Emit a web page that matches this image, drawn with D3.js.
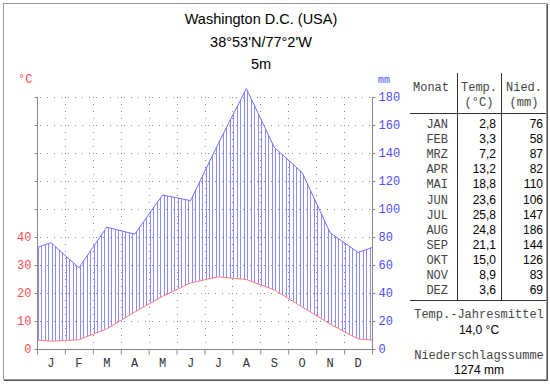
<!DOCTYPE html>
<html>
<head>
<meta charset="utf-8">
<style>
  body { margin: 0; background: #fff; }
  svg { display: block; }
  .mono { font-family: "Liberation Mono", "DejaVu Sans Mono", monospace; }
  .sans { font-family: "Liberation Sans", Arial, sans-serif; }
</style>
</head>
<body>
<svg width="550" height="384"></svg>
<script src="https://cdn.jsdelivr.net/npm/d3@7"></script>
<script>

var months = ["JAN", "FEB", "MRZ", "APR", "MAI", "JUN", "JUL", "AUG", "SEP", "OKT", "NOV", "DEZ"];
var monthLetters = ["J", "F", "M", "A", "M", "J", "J", "A", "S", "O", "N", "D"];
var temp = [2.8, 3.3, 7.2, 13.2, 18.8, 23.6, 25.8, 24.8, 21.1, 15.0, 8.9, 3.6];
var precip = [76, 58, 87, 82, 110, 106, 147, 186, 144, 126, 83, 69];
var tempTicks = [0, 10, 20, 30, 40];
var precipTicks = [0, 20, 40, 60, 80, 100, 120, 140, 160, 180];
var titleLines = ["Washington D.C. (USA)", "38°53'N/77°2'W", "5m"];
var meanTemp = "14,0 °C";
var totalPrecip = "1274 mm";

var svg = d3.select("svg"),
    margin = {top: 97, left: 37, right: 178, bottom: 35},
    width = 550 - margin.left - margin.right,
    height = 384 - margin.top - margin.bottom;

var fmt = function(v) { return v.toFixed(1).replace(".", ","); };

// frame
svg.append("rect").attr("x", 3.5).attr("y", 3.5).attr("width", 543).attr("height", 376)
    .attr("fill", "#fff").attr("stroke", "#999");
svg.append("path").attr("d", "M547.5,4V380.5H4").attr("fill", "none").attr("stroke", "#555");

// title
svg.selectAll(".title").data(titleLines).enter().append("text")
    .attr("class", "sans")
    .attr("x", 261).attr("y", function(d, i) { return 24 + i * 22.5; })
    .attr("text-anchor", "middle").attr("font-size", 14.5).attr("fill", "#000")
    .text(function(d) { return d; });

var g = svg.append("g").attr("transform", "translate(" + margin.left + "," + margin.top + ")");

var x = d3.scaleLinear().domain([0, 12]).range([0, width]);
var yP = d3.scaleLinear().domain([0, 180]).range([height, 0]);
var yT = d3.scaleLinear().domain([0, 90]).range([height, 0]);

// wrap Dec before Jan and Jan after Dec, clipped to the year
var wrapped = [{m: -0.5, t: temp[11], p: precip[11]}]
    .concat(temp.map(function(t, i) { return {m: i + 0.5, t: t, p: precip[i]}; }))
    .concat([{m: 12.5, t: temp[0], p: precip[0]}]);

g.append("clipPath").attr("id", "year").append("rect")
    .attr("x", 0).attr("y", -20).attr("width", width).attr("height", height + 20);

// dotted grid
g.append("g").selectAll("line").data(d3.range(10, 91, 10)).enter().append("line")
    .attr("x1", 3).attr("x2", width)
    .attr("y1", function(d) { return Math.round(yT(d)) + 0.5; })
    .attr("y2", function(d) { return Math.round(yT(d)) + 0.5; })
    .attr("stroke", "#888").attr("stroke-dasharray", "1,6");

g.append("g").selectAll("line").data(d3.range(1, 12)).enter().append("line")
    .attr("x1", function(d) { return Math.round(x(d)) + 0.5; })
    .attr("x2", function(d) { return Math.round(x(d)) + 0.5; })
    .attr("y1", 0).attr("y2", height)
    .attr("stroke", "#888").attr("stroke-dasharray", "1,6");

// hatching between temperature and precipitation
var area = d3.area()
    .x(function(d) { return x(d.m); })
    .y0(function(d) { return yT(d.t); })
    .y1(function(d) { return yP(d.p); });

g.append("clipPath").attr("id", "humid").append("path")
    .datum(wrapped).attr("d", area);

var hatch = g.append("g").attr("clip-path", "url(#year)")
    .append("g").attr("clip-path", "url(#humid)");
hatch.selectAll("line").data(d3.range(0, 96)).enter().append("line")
    .attr("x1", function(d) { return Math.round(x(d / 8)) + 1.5; })
    .attr("x2", function(d) { return Math.round(x(d / 8)) + 1.5; })
    .attr("y1", -20).attr("y2", height)
    .attr("stroke", "#8c8cff").attr("stroke-width", 1);

var lines = g.append("g").attr("clip-path", "url(#year)");
lines.append("path").datum(wrapped)
    .attr("fill", "none").attr("stroke", "#ff7a7a").attr("stroke-width", 1)
    .attr("d", d3.line().x(function(d) { return x(d.m); }).y(function(d) { return yT(d.t); }));
lines.append("path").datum(wrapped)
    .attr("fill", "none").attr("stroke", "#7070ff").attr("stroke-width", 1)
    .attr("d", d3.line().x(function(d) { return x(d.m); }).y(function(d) { return yP(d.p); }));

// left axis (temperature)
var axisL = g.append("g").attr("transform", "translate(0.5,0)")
    .call(d3.axisLeft(yT).tickValues(d3.range(0, 91, 10)).tickSize(3)
        .tickFormat(function(d) { return tempTicks.indexOf(d) >= 0 ? d : ""; }));
axisL.select(".domain").attr("stroke", "#888").attr("d", "M0,0V" + (height + 5));
axisL.selectAll(".tick line").attr("stroke", "#888");
axisL.selectAll("text").attr("class", "mono").attr("font-size", 12).attr("fill", "#ff4d4d").attr("x", -6);

// right axis (precipitation)
var axisR = g.append("g").attr("transform", "translate(" + (width + 0.5) + ",0)")
    .call(d3.axisRight(yP).tickValues(precipTicks).tickSize(3));
axisR.select(".domain").attr("stroke", "#888").attr("d", "M0,0V" + (height + 5));
axisR.selectAll(".tick line").attr("stroke", "#888");
axisR.selectAll("text").attr("class", "mono").attr("font-size", 12).attr("fill", "#4d4dff").attr("x", 6);

// bottom axis
var axisB = g.append("g").attr("transform", "translate(0," + (height + 0.5) + ")")
    .call(d3.axisBottom(x).tickValues(d3.range(0, 13)).tickSize(5).tickFormat(""));
axisB.select(".domain").attr("stroke", "#888").attr("d", "M0,0H" + width);
axisB.selectAll(".tick line").attr("stroke", "#888");
g.append("g").selectAll("text").data(monthLetters).enter().append("text")
    .attr("class", "mono").attr("font-size", 12).attr("fill", "#333")
    .attr("text-anchor", "middle")
    .attr("x", function(d, i) { return x(i + 0.5); })
    .attr("y", height + 18)
    .text(function(d) { return d; });

// unit labels
svg.append("text").attr("class", "mono").attr("x", 18).attr("y", 83)
    .attr("font-size", 12).attr("fill", "#ff4d4d").text("°C");
svg.append("text").attr("class", "mono").attr("x", 378).attr("y", 83)
    .attr("font-size", 10).attr("fill", "#4d4dff").text("mm");

// table
var tbl = svg.append("g");
var rowY = function(i) { return 128 + i * 15.1; };
tbl.append("line").attr("x1", 457.5).attr("x2", 457.5).attr("y1", 73).attr("y2", 300).attr("stroke", "#333");
tbl.append("line").attr("x1", 501.5).attr("x2", 501.5).attr("y1", 73).attr("y2", 300).attr("stroke", "#333");
tbl.append("line").attr("x1", 410).attr("x2", 546).attr("y1", 113.5).attr("y2", 113.5).attr("stroke", "#333");
tbl.append("line").attr("x1", 410).attr("x2", 546).attr("y1", 300.5).attr("y2", 300.5).attr("stroke", "#333");

var head = [["Monat", 431, 91], ["Temp.", 479, 91], ["(°C)", 479, 106], ["Nied.", 524, 91], ["(mm)", 524, 106]];
tbl.selectAll(".head").data(head).enter().append("text")
    .attr("class", "mono").attr("font-size", 12).attr("fill", "#444").attr("text-anchor", "middle")
    .attr("x", function(d) { return d[1]; }).attr("y", function(d) { return d[2]; })
    .text(function(d) { return d[0]; });

tbl.selectAll(".mon").data(months).enter().append("text")
    .attr("class", "mono").attr("font-size", 12).attr("fill", "#444").attr("text-anchor", "end")
    .attr("x", 448).attr("y", function(d, i) { return rowY(i); })
    .text(function(d) { return d; });
tbl.selectAll(".tv").data(temp).enter().append("text")
    .attr("class", "sans").attr("font-size", 12).attr("fill", "#000").attr("text-anchor", "end")
    .attr("x", 496).attr("y", function(d, i) { return rowY(i); })
    .text(fmt);
tbl.selectAll(".pv").data(precip).enter().append("text")
    .attr("class", "sans").attr("font-size", 12).attr("fill", "#000").attr("text-anchor", "end")
    .attr("x", 543).attr("y", function(d, i) { return rowY(i); })
    .text(function(d) { return d; });

var foot = [["mono", "Temp.-Jahresmittel", 318], ["sans", meanTemp, 334], ["mono", "Niederschlagssumme", 359], ["sans", totalPrecip, 374]];
tbl.selectAll(".foot").data(foot).enter().append("text")
    .attr("class", function(d) { return d[0]; }).attr("font-size", 12)
    .attr("fill", function(d) { return d[0] === "mono" ? "#444" : "#000"; })
    .attr("text-anchor", "middle").attr("x", 479).attr("y", function(d) { return d[2]; })
    .text(function(d) { return d[1]; });

</script>
</body>
</html>
